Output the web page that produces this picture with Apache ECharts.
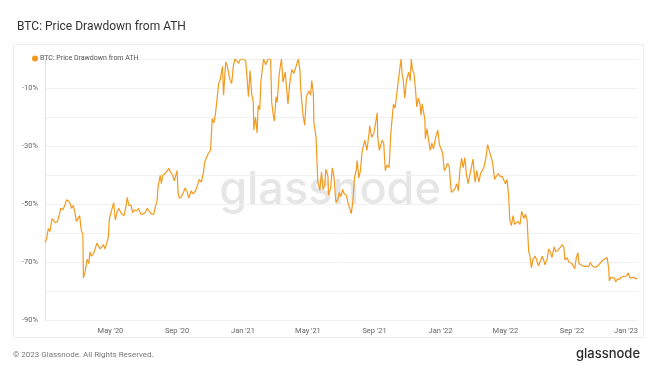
<!DOCTYPE html>
<html><head><meta charset="utf-8">
<script src="https://cdn.jsdelivr.net/npm/echarts@6/dist/echarts.min.js"></script>
<style>html,body{margin:0;padding:0;background:#fff}#c{width:660px;height:372px}</style>
</head><body><div id="c"></div>
<script>
const seriesName = 'BTC: Price Drawdown from ATH';
const dates = [
'2020-01-01','2020-01-04','2020-01-07','2020-01-10','2020-01-14','2020-01-17','2020-01-20','2020-01-24','2020-01-27','2020-01-30',
'2020-02-03','2020-02-06','2020-02-10','2020-02-13','2020-02-16','2020-02-19','2020-02-22','2020-02-25','2020-02-28','2020-03-02',
'2020-03-05','2020-03-08','2020-03-11','2020-03-12','2020-03-15','2020-03-17','2020-03-19','2020-03-22','2020-03-24','2020-03-27',
'2020-03-31','2020-04-03','2020-04-06','2020-04-09','2020-04-12','2020-04-15','2020-04-18','2020-04-21','2020-04-24','2020-04-27',
'2020-04-29','2020-05-02','2020-05-07','2020-05-10','2020-05-13','2020-05-16','2020-05-19','2020-05-22','2020-05-26','2020-05-29',
'2020-06-01','2020-06-04','2020-06-08','2020-06-11','2020-06-14','2020-06-18','2020-06-22','2020-06-26','2020-06-30','2020-07-04',
'2020-07-08','2020-07-12','2020-07-16','2020-07-20','2020-07-23','2020-07-26','2020-07-28','2020-08-01','2020-08-03','2020-08-06',
'2020-08-10','2020-08-13','2020-08-17','2020-08-20','2020-08-24','2020-08-27','2020-09-01','2020-09-03','2020-09-05','2020-09-09',
'2020-09-13','2020-09-16','2020-09-19','2020-09-23','2020-09-27','2020-10-01','2020-10-05','2020-10-09','2020-10-12','2020-10-16',
'2020-10-20','2020-10-22','2020-10-26','2020-10-29','2020-11-02','2020-11-05','2020-11-08','2020-11-11','2020-11-14','2020-11-17',
'2020-11-20','2020-11-24','2020-11-26','2020-11-30','2020-12-03','2020-12-07','2020-12-11','2020-12-14','2020-12-17','2020-12-21',
'2020-12-24','2020-12-27','2020-12-31',
'2021-01-03','2021-01-06','2021-01-08','2021-01-11','2021-01-14','2021-01-17','2021-01-20','2021-01-21','2021-01-24','2021-01-27',
'2021-01-29','2021-02-01','2021-02-03','2021-02-06','2021-02-08','2021-02-12','2021-02-16','2021-02-21','2021-02-23','2021-02-26',
'2021-02-28','2021-03-03','2021-03-05','2021-03-09','2021-03-13','2021-03-16','2021-03-20','2021-03-25','2021-03-28','2021-04-01',
'2021-04-05','2021-04-10','2021-04-13','2021-04-16','2021-04-18','2021-04-22','2021-04-25','2021-04-28','2021-05-03','2021-05-06',
'2021-05-08','2021-05-11','2021-05-12','2021-05-14','2021-05-16','2021-05-19','2021-05-21','2021-05-23','2021-05-26','2021-05-29',
'2021-06-01','2021-06-03','2021-06-07','2021-06-08','2021-06-12','2021-06-15','2021-06-18','2021-06-21','2021-06-22','2021-06-25',
'2021-06-28','2021-07-01','2021-07-04','2021-07-07','2021-07-11','2021-07-14','2021-07-17','2021-07-20','2021-07-23','2021-07-26',
'2021-07-29','2021-07-31','2021-08-03','2021-08-06','2021-08-09','2021-08-12','2021-08-14','2021-08-18','2021-08-22','2021-08-23',
'2021-08-27','2021-08-31','2021-09-03','2021-09-06','2021-09-07','2021-09-10','2021-09-13','2021-09-15','2021-09-18','2021-09-21',
'2021-09-24','2021-09-28','2021-10-01','2021-10-04','2021-10-06','2021-10-09','2021-10-12','2021-10-15','2021-10-20','2021-10-22',
'2021-10-24','2021-10-27','2021-10-30','2021-11-03','2021-11-06','2021-11-08','2021-11-10','2021-11-13','2021-11-16','2021-11-18',
'2021-11-21','2021-11-24','2021-11-26','2021-11-28','2021-12-01','2021-12-03','2021-12-04','2021-12-07','2021-12-10','2021-12-13',
'2021-12-16','2021-12-19','2021-12-23','2021-12-27','2021-12-30',
'2022-01-02','2022-01-05','2022-01-08','2022-01-11','2022-01-14','2022-01-17','2022-01-21','2022-01-24','2022-01-27','2022-01-31',
'2022-02-03','2022-02-06','2022-02-09','2022-02-12','2022-02-15','2022-02-18','2022-02-21','2022-02-24','2022-02-28','2022-03-02',
'2022-03-06','2022-03-09','2022-03-13','2022-03-16','2022-03-19','2022-03-22','2022-03-26','2022-03-29','2022-04-01','2022-04-04',
'2022-04-07','2022-04-11','2022-04-14','2022-04-18','2022-04-21','2022-04-25','2022-04-28','2022-05-01','2022-05-04','2022-05-07',
'2022-05-09','2022-05-11','2022-05-12','2022-05-15','2022-05-18','2022-05-21','2022-05-24','2022-05-28','2022-05-31','2022-06-04',
'2022-06-07','2022-06-10','2022-06-13','2022-06-15','2022-06-18','2022-06-21','2022-06-25','2022-06-28','2022-07-01','2022-07-04',
'2022-07-08','2022-07-11','2022-07-13','2022-07-17','2022-07-20','2022-07-23','2022-07-26','2022-07-30','2022-08-02','2022-08-06',
'2022-08-10','2022-08-14','2022-08-17','2022-08-19','2022-08-23','2022-08-26','2022-08-29','2022-09-01','2022-09-06','2022-09-09',
'2022-09-12','2022-09-14','2022-09-17','2022-09-20','2022-09-24','2022-09-28','2022-10-02','2022-10-05','2022-10-08','2022-10-12',
'2022-10-15','2022-10-18','2022-10-21','2022-10-25','2022-10-29','2022-11-01','2022-11-05','2022-11-08','2022-11-09','2022-11-12',
'2022-11-15','2022-11-18','2022-11-21','2022-11-24','2022-11-28','2022-12-01','2022-12-05','2022-12-09','2022-12-14','2022-12-17',
'2022-12-20','2022-12-24','2022-12-28','2022-12-31'
];
const drawdown = [
-63.3,-62.0,-58.5,-59.5,-55.0,-55.5,-56.5,-56.0,-54.0,-51.5,
-52.0,-50.8,-48.5,-48.0,-49.5,-51.5,-50.5,-52.5,-56.0,-55.5,
-54.0,-59.0,-60.5,-75.5,-73.5,-73.0,-69.0,-70.5,-66.5,-68.0,
-67.0,-66.5,-63.5,-64.0,-65.5,-66.0,-64.0,-65.5,-63.5,-61.5,
-55.0,-55.0,-49.5,-55.5,-53.0,-51.5,-51.0,-53.5,-54.0,-51.5,
-47.7,-50.5,-50.5,-53.0,-52.0,-52.5,-51.5,-53.5,-53.5,-53.0,
-51.5,-52.5,-53.5,-53.5,-51.0,-49.0,-44.0,-40.0,-43.0,-40.0,
-39.5,-40.0,-37.7,-39.0,-40.0,-42.0,-38.5,-46.0,-48.0,-47.5,
-46.0,-44.5,-45.5,-48.0,-45.5,-46.5,-45.5,-43.5,-41.5,-42.5,
-39.0,-35.5,-33.8,-32.5,-31.5,-20.5,-22.0,-19.0,-18.5,-8.5,
-7.0,-2.5,-12.5,-1.0,-2.5,-6.5,-8.5,-2.5,0,-0.8,
-1.5,0,0,
0,-0.5,0,-13.0,-4.0,-12.0,-15.0,-24.5,-20.0,-25.5,
-16.0,-17.5,-7.8,-3.0,0,-2.0,0,0,-15.0,-19.5,
-21.4,-13.0,-15.0,-5.0,0,-8.0,-4.5,-15.5,-9.0,-3.6,
-5.0,-2.0,0,-3.5,-11.5,-19.5,-22.8,-13.0,-11.0,-12.5,
-7.4,-12.0,-22.0,-22.0,-27.0,-42.0,-42.0,-45.3,-39.0,-45.0,
-43.5,-38.0,-40.5,-47.0,-44.5,-37.5,-40.5,-48.0,-49.5,-48.5,
-46.0,-47.5,-45.0,-46.5,-47.0,-49.5,-50.0,-53.3,-49.0,-41.0,
-38.5,-35.0,-41.0,-38.5,-32.0,-32.0,-28.0,-31.5,-25.5,-23.0,
-27.0,-25.5,-22.0,-18.6,-27.0,-31.5,-31.0,-28.0,-29.0,-38.5,
-36.5,-37.5,-26.0,-26.5,-15.5,-17.0,-17.5,-7.5,0,-5.0,
-7.0,-13.5,-7.5,-4.5,-7.5,0,-3.5,-5.0,-11.0,-16.5,
-13.5,-15.5,-19.5,-15.5,-15.0,-20.7,-27.5,-24.0,-28.0,-31.5,
-29.0,-31.0,-27.0,-24.5,-29.5,
-29.0,-32.5,-38.5,-37.5,-36.0,-37.0,-46.0,-45.5,-45.0,-43.0,
-45.5,-38.0,-34.3,-37.5,-34.0,-40.0,-43.0,-43.0,-36.5,-34.5,
-42.5,-38.5,-42.5,-39.5,-38.5,-37.5,-34.0,-29.5,-31.5,-31.0,
-35.5,-41.5,-40.5,-39.5,-40.5,-40.5,-41.0,-43.0,-41.5,-47.5,
-55.5,-56.5,-57.5,-54.0,-57.0,-56.8,-56.0,-57.0,-52.5,-55.0,
-53.5,-55.5,-66.5,-67.5,-72.0,-69.0,-68.0,-69.5,-71.3,-70.0,
-68.0,-69.5,-71.0,-69.0,-65.5,-66.5,-68.5,-64.8,-66.5,-66.0,
-65.0,-64.0,-65.0,-69.3,-68.5,-70.0,-69.5,-70.5,-72.3,-68.5,
-66.8,-70.5,-70.5,-71.3,-71.5,-71.5,-71.5,-70.2,-71.2,-71.8,
-71.6,-71.5,-71.3,-70.0,-69.2,-69.6,-68.5,-72.5,-76.5,-75.3,
-75.5,-75.5,-76.8,-75.8,-76.0,-75.2,-75.0,-75.0,-73.8,-75.5,
-75.2,-75.3,-75.8,-75.6
];
const xTickDates = ['2020-05-01','2020-09-01','2021-01-01','2021-05-01','2021-09-01','2022-01-01','2022-05-01','2022-09-01','2023-01-01'];
const xTickLabels = ["May '20","Sep '20","Jan '21","May '21","Sep '21","Jan '22","May '22","Sep '22","Jan '23"];
const xStart = '2020-01-01', xEnd = '2023-01-01';
const yMin = -90, yMax = 0, yStep = 10;

const FONT = 'Roboto, "Liberation Sans", sans-serif';
const WM_FONT = 'Inter, "Noto Sans", sans-serif';
const ts = d => Date.parse(d + 'T00:00:00Z');
const tickTimes = xTickDates.map(ts);
const labelMap = {};
tickTimes.forEach((t, i) => labelMap[t] = xTickLabels[i]);
const data = dates.map((d, i) => [ts(d), drawdown[i]]);

const chart = echarts.init(document.getElementById('c'), null, {renderer: 'canvas'});
chart.setOption({
  animation: false,
  backgroundColor: '#fff',
  title: {
    text: 'BTC: Price Drawdown from ATH',
    left: 12, top: 16,
    textStyle: {fontFamily: FONT, fontSize: 12, fontWeight: 'normal', color: '#333'}
  },
  legend: {
    left: 27, top: 50, itemWidth: 6, itemHeight: 6, icon: 'circle', itemGap: 4,
    data: [seriesName],
    textStyle: {fontFamily: FONT, fontSize: 7, color: '#555', padding: [0, 0, 0, -3]}
  },
  graphic: [
    {type: 'rect', shape: {x: 13.5, y: 44.5, width: 630, height: 293}, style: {fill: 'none', stroke: '#ececec', lineWidth: 1}, z: -10, silent: true},
    {type: 'text', x: 330, y: 190, style: {text: 'glassnode', font: '500 45px ' + WM_FONT, fill: '#e6e6e6', align: 'center', verticalAlign: 'middle'}, z: -5, silent: true},
    {type: 'text', x: 13, y: 355, style: {text: '\u00a9 2023 Glassnode. All Rights Reserved.', font: '8px ' + FONT, fill: '#777', verticalAlign: 'middle'}, silent: true},
    {type: 'text', x: 608, y: 354, style: {text: 'glassnode', font: '500 13px ' + WM_FONT, fill: '#2a2a2a', align: 'center', verticalAlign: 'middle'}, silent: true}
  ],
  grid: {left: 45, right: 22, top: 59, bottom: 52, containLabel: false},
  xAxis: {
    type: 'value',
    min: ts(xStart),
    max: ts(xEnd),
    axisLine: {show: false},
    axisTick: {show: false},
    splitLine: {show: false},
    axisLabel: {
      customValues: tickTimes,
      formatter: v => labelMap[v] || '',
      fontFamily: FONT, fontSize: 7.5, color: '#666', margin: 7,
      alignMaxLabel: 'right', hideOverlap: false
    }
  },
  yAxis: {
    type: 'value', min: yMin, max: yMax, interval: yStep,
    axisLine: {show: true, lineStyle: {color: '#ecdede', width: 1}},
    axisTick: {show: false},
    splitLine: {lineStyle: {color: '#f1f1f1', width: 1}},
    axisLabel: {
      formatter: v => (Math.round(v) % 20 !== 0 ? v + '%' : ''),
      fontFamily: FONT, fontSize: 7.5, color: '#666', margin: 7, padding: [0, 0, 4, 0]
    }
  },
  series: [{
    name: seriesName, type: 'line', data: data, showSymbol: false, symbol: 'none',
    lineStyle: {color: '#f29a1f', width: 1.2}, itemStyle: {color: '#f29a1f'},
    z: 3
  }]
});
</script></body></html>
